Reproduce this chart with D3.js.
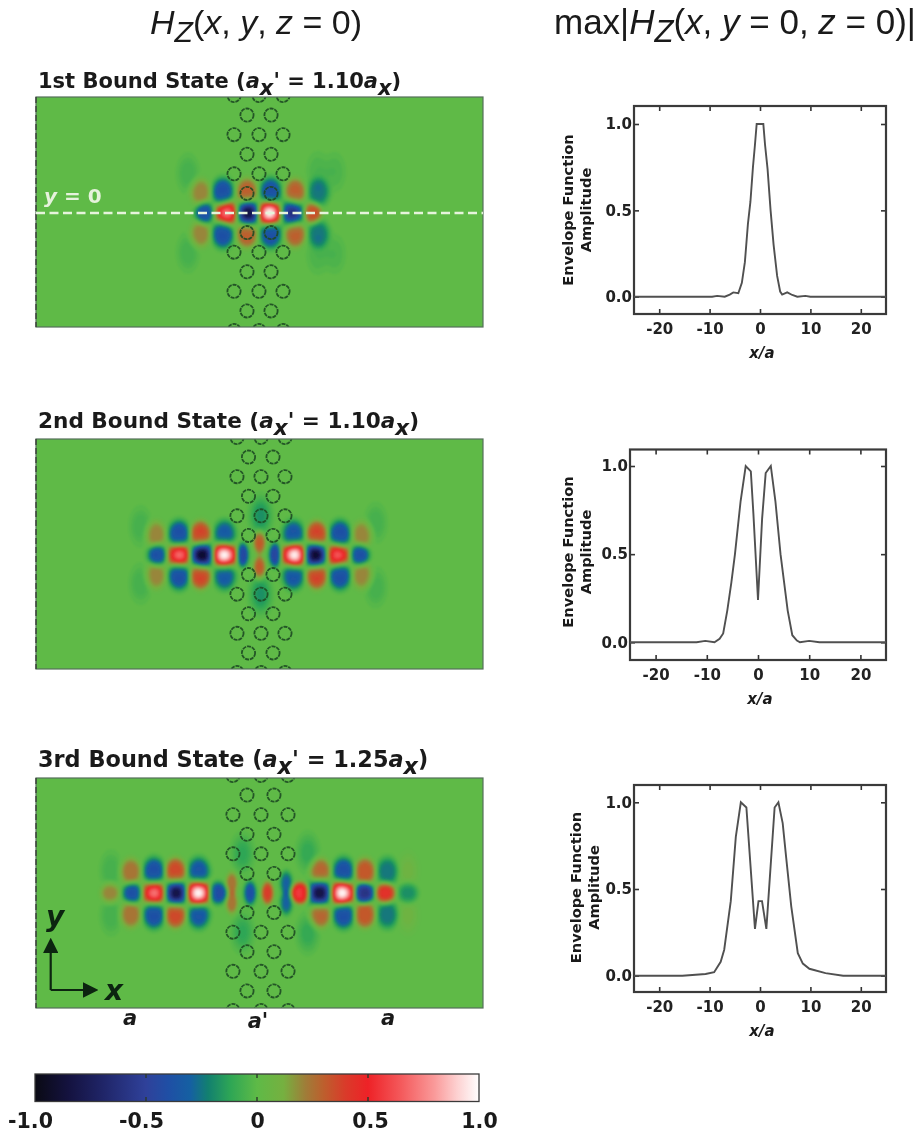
<!DOCTYPE html>
<html>
<head>
<meta charset="utf-8">
<script src="https://cdn.jsdelivr.net/npm/d3@7"></script>
<style>
  html, body { margin: 0; padding: 0; background: #fff; }
  svg { display: block; filter: blur(0.4px); }
  text { font-family: "DejaVu Sans", sans-serif; fill: #1a1a1a; }
</style>
</head>
<body>
<div id="chart"></div>
<script>
// colour map
const colorValues = [-1, -0.85, -0.7, -0.5, -0.4, -0.3, -0.22, -0.12, 0, 0.12, 0.22, 0.3, 0.4, 0.5, 0.65, 0.8, 0.9, 1]
const colorStops = ["#0a0a14", "#14123f", "#1f2466", "#2f419a", "#1f4fa5", "#1560a2", "#12806f", "#2ea655", "#5eba47",
                    "#76b040", "#a07c38", "#bd5f2d", "#da3a2a", "#ee2227", "#f45a5c", "#fa9a9a", "#fdd0d0", "#ffffff"]
const colorTicks = [-1, -0.5, 0, 0.5, 1]
const colorLabels = ["-1.0", "-0.5", "0", "0.5", "1.0"]

// field lobes, x and y in lattice units measured from the centre of each panel, value on the colour scale
const lobes1X = [-6.1, -3.6, -1.25, 1.1, 3.6, 5.9, -6.6, -4.1, -1.4, 1.25, 4, 6.6, -6.6, -4.1, -1.4, 1.25, 4, 6.6, -8, -8, 6.5, 6.5, 8.4, 8.4]
const lobes1Y = [0, 0, 0, 0, 0, 0, -2.35, -2.35, -2.35, -2.35, -2.35, -2.35, 2.35, 2.35, 2.35, 2.35, 2.35, 2.35, -4.4, 4.4, -4.7, 4.7, -4.6, 4.6]
const lobes1V = [-0.4, 0.72, -0.88, 1, -0.62, 0.36, 0.21, -0.4, 0.31, -0.4, 0.3, -0.24, 0.21, -0.4, 0.31, -0.4, 0.3, -0.24, -0.07, -0.07, -0.05, -0.05, -0.05, -0.05]

const lobes2X = [-11.4, -8.9, -6.4, -4, 4, 6.2, 8.7, 11.2, -11.6, -9, -6.6, -3.9, 3.8, 6.4, 9, 11.5, -11.6, -9, -6.6, -3.9, 3.8, 6.4, 9, 11.5, 0.13, 0.13, -13.3, -13.3, 13, 13]
const lobes2Y = [0, 0, 0, 0, 0, 0, 0, 0, -2.3, -2.3, -2.3, -2.3, -2.3, -2.3, -2.3, -2.3, 2.3, 2.3, 2.3, 2.3, 2.3, 2.3, 2.3, 2.3, -4.4, 4.4, -3.2, 3.2, -3.6, 3.6]
const lobes2V = [-0.4, 0.7, -0.95, 1, 1, -0.95, 0.65, -0.4, 0.21, -0.4, 0.38, -0.34, -0.36, 0.38, -0.4, 0.21, 0.21, -0.4, 0.38, -0.34, -0.36, 0.38, -0.4, 0.21, -0.18, -0.18, -0.07, -0.07, -0.07, -0.07]
const narrow2X = [-1.9, 1.75, 0, 0]
const narrow2Y = [0, 0, -1.4, 1.4]
const narrow2V = [-0.48, -0.48, 0.32, 0.32]

const lobes3X = [-16.7, -14.2, -11.7, -9.3, -6.9, -4.7, 4.6, 6.8, 9.2, 11.7, 14.1, 16.6, -14.4, -11.8, -9.4, -6.8, 6.8, 9.4, 11.8, 14.3, -14.4, -11.8, -9.4, -6.8, 6.8, 9.4, 11.8, 14.3, -16.6, -16.6, -1.9, -1.9, 5.4, 5.4, 16.6, 16.6]
const lobes3Y = [0, 0, 0, 0, 0, 0, 0, 0, 0, 0, 0, 0, -2.4, -2.4, -2.4, -2.4, -2.4, -2.4, -2.4, -2.4, 2.4, 2.4, 2.4, 2.4, 2.4, 2.4, 2.4, 2.4, -2.5, 2.5, -4.4, 4.4, -4.5, 4.5, -2.5, 2.5]
const lobes3V = [0.22, -0.4, 0.72, -0.86, 1, -0.44, 0.58, -0.86, 1, -0.6, 0.45, -0.2, 0.25, -0.4, 0.37, -0.36, 0.29, -0.4, 0.33, -0.25, 0.25, -0.4, 0.37, -0.36, 0.29, -0.4, 0.33, -0.25, -0.07, -0.07, -0.12, -0.12, -0.11, -0.11, 0.08, 0.08]
const narrow3X = [-3.1, -3.1, -1.05, 0.9, 3, 3]
const narrow3Y = [-1.1, 1.1, 0, 0, -1.1, 1.1]
const narrow3V = [0.25, 0.25, -0.4, 0.4, -0.3, -0.3]

// air holes of the barrier, rows alternate between three and two holes
const holeRows = [-6, -5, -4, -3, -2, -1, 1, 2, 3, 4, 5, 6]
const holeColsEven1 = [-2.85, -0.06, 2.63]
const holeColsOdd1 = [-1.4, 1.29]
const holeColsEven2 = [-2.52, 0.17, 2.85]
const holeColsOdd2 = [-1.23, 1.51]
const holeColsEven3 = [-2.97, 0.17, 3.19]
const holeColsOdd3 = [-1.4, 1.62]

// envelope curves
const env1X = [-25, -9.5, -8.5, -7, -6, -5.3, -4.3, -3.6, -3, -2.4, -1.9, -1.4, -1, -0.66, 0.66, 1, 1.5, 2.1, 2.7, 3.4, 4, 4.4, 5.4, 6.4, 7.4, 9, 10, 25]
const env1Y = [0, 0, 0.005, 0, 0.012, 0.025, 0.02, 0.08, 0.2, 0.42, 0.55, 0.75, 0.88, 1, 1, 0.88, 0.74, 0.5, 0.3, 0.12, 0.03, 0.012, 0.025, 0.01, 0, 0.005, 0, 0]

const env2X = [-25, -12, -10.3, -8.5, -7.5, -6.8, -6, -5.2, -4.5, -3.4, -2.4, -1.4, -0.9, 0, 0.8, 1.5, 2.5, 3.4, 4.4, 5.1, 5.8, 6.7, 7.6, 8.2, 10, 12, 25]
const env2Y = [0, 0, 0.008, 0, 0.02, 0.05, 0.18, 0.34, 0.5, 0.8, 1, 0.97, 0.73, 0.24, 0.7, 0.96, 1, 0.8, 0.5, 0.34, 0.18, 0.04, 0.01, 0, 0.008, 0, 0]

const env3X = [-25, -15.4, -10.8, -9.1, -7.8, -7.1, -5.8, -4.8, -3.8, -2.7, -1, -0.3, 0.4, 1.26, 2.9, 3.65, 4.5, 5.2, 6.2, 7.5, 8.5, 9.8, 13, 16.5, 25]
const env3Y = [0, 0, 0.01, 0.02, 0.08, 0.15, 0.43, 0.8, 1, 0.97, 0.27, 0.43, 0.43, 0.27, 0.97, 1, 0.88, 0.68, 0.4, 0.13, 0.07, 0.04, 0.015, 0, 0]

const xTicks = [-20, -10, 0, 10, 20]
const yTicks = [0, 0.5, 1]

const w = 916
const h = 1133

const color = d3.scaleLinear().domain(colorValues).range(colorStops).clamp(true)

const svg = d3.select("#chart").append("svg")
              .attr("width", w)
              .attr("height", h)

const defs = svg.append("defs")
defs.append("filter").attr("id", "soft").append("feGaussianBlur").attr("stdDeviation", 0.5)

// headings
const headFont = "'Liberation Sans'"
svg.append("text").attr("x", 150).attr("y", 34)
   .style("font-family", headFont).style("font-size", "34px")
   .html('<tspan font-style="italic">H</tspan><tspan dy="8" font-style="italic" font-size="30">Z</tspan><tspan dy="-8">(</tspan><tspan font-style="italic">x</tspan>, <tspan font-style="italic">y</tspan>, <tspan font-style="italic">z</tspan> = 0)')
svg.append("text").attr("x", 554).attr("y", 34)
   .style("font-family", headFont).style("font-size", "35px")
   .html('max|<tspan font-style="italic">H</tspan><tspan dy="8" font-style="italic" font-size="31">Z</tspan><tspan dy="-8">(</tspan><tspan font-style="italic">x</tspan>, <tspan font-style="italic">y</tspan> = 0, <tspan font-style="italic">z</tspan> = 0)|')

// field panels
const fieldLeft = 36
const fieldRight = 483
const unitsX = [-25, 25]
const unitsY = [-12.86, 12.86]
const rowStep = 2.19
// bands are centred on 0 so the background stays one flat colour
const levels = d3.range(-1.01, 1.02, 0.02)

function bump(u, v, lx, ly, amp, rx, ry, p) {
  const r2 = (u - lx) * (u - lx) / (rx * rx) + (v - ly) * (v - ly) / (ry * ry)
  return amp * Math.exp(-Math.pow(r2, p))
}

function lobeAt(u, v, lx, ly, amp) {
  if (Math.abs(amp) < 0.2) return bump(u, v, lx, ly, amp, 1.1, 1.9, 1.4)
  if (Math.abs(ly) > 1.8) return bump(u, v, lx, ly, amp, 1.2, 1.55, 2)
  if (Math.abs(amp) > 0.6) return bump(u, v, lx, ly, amp, 1.3, 1.3, 1.2)
  return bump(u, v, lx, ly, amp, 1.08, 1.2, 2)
}

function drawField(idx, top, cy, lx, ly, lv, nx0, ny0, nv0, colsEven, colsOdd) {
  const bottom = top + 230
  const x = d3.scaleLinear().domain(unitsX).range([fieldLeft, fieldRight])
  const y = d3.scaleLinear().domain(unitsY).range([cy - 115, cy + 115])

  const nx = 224, ny = 115
  const values = new Array(nx * ny)
  for (let j = 0; j < ny; j++) {
    const v = y.invert(top + (j + 0.5) * 2)
    for (let i = 0; i < nx; i++) {
      const u = x.invert(fieldLeft + (i + 0.5) * (fieldRight - fieldLeft) / nx)
      let sum = 0
      for (let k = 0; k < lx.length; k++) sum += lobeAt(u, v, lx[k], ly[k], lv[k])
      for (let k = 0; k < nx0.length; k++) sum += bump(u, v, nx0[k], ny0[k], nv0[k], 0.68, 1.3, 2)
      values[i + j * nx] = sum
    }
  }

  const clipId = "clip" + idx
  defs.append("clipPath").attr("id", clipId).append("rect")
      .attr("x", fieldLeft).attr("y", top).attr("width", fieldRight - fieldLeft).attr("height", 230)

  const g = svg.append("g").attr("clip-path", `url(#${clipId})`)
  g.append("rect").attr("x", fieldLeft).attr("y", top)
   .attr("width", fieldRight - fieldLeft).attr("height", 230).attr("fill", color(0))

  const contours = d3.contours().size([nx, ny]).thresholds(levels)(values)
  g.append("g").attr("filter", "url(#soft)")
   .attr("transform", `translate(${fieldLeft},${top}) scale(${(fieldRight - fieldLeft) / nx},2)`)
   .selectAll("path")
   .data(contours)
   .enter()
   .append("path")
   .attr("d", d3.geoPath())
   .attr("fill", d => color(d.value + 0.01))

  const holes = []
  holeRows.forEach(r => {
    const cols = r % 2 === 0 ? colsEven : colsOdd
    cols.forEach(c => holes.push([c, r * rowStep]))
  })
  g.selectAll("circle.hole")
   .data(holes)
   .enter()
   .append("circle")
   .attr("class", "hole")
   .attr("cx", d => x(d[0]))
   .attr("cy", d => y(d[1]))
   .attr("r", 6.6)
   .attr("fill", "none")
   .attr("stroke", "#1d4a22")
   .attr("stroke-opacity", 0.9)
   .attr("stroke-width", 1.8)
   .attr("stroke-dasharray", "4 0.9")

  // frame
  svg.append("rect").attr("x", fieldLeft).attr("y", top)
     .attr("width", fieldRight - fieldLeft).attr("height", 230)
     .attr("fill", "none").attr("stroke", "#55705a").attr("stroke-width", 1.2)
  svg.append("line").attr("x1", fieldLeft).attr("x2", fieldLeft).attr("y1", top).attr("y2", bottom)
     .attr("stroke", "#333").attr("stroke-width", 1.2).attr("stroke-dasharray", "6 3")
  return { x: x, y: y }
}

const titleRuns = (n, ratio) => `${n} Bound State (<tspan font-style="italic">a</tspan><tspan dy="7" font-style="italic">x</tspan><tspan dy="-7">' = ${ratio}</tspan><tspan font-style="italic">a</tspan><tspan dy="7" font-style="italic">x</tspan><tspan dy="-7">)</tspan>`

svg.append("text").attr("x", 38).attr("y", 88).style("font-size", "21px").style("font-weight", "bold").html(titleRuns("1st", "1.10"))
svg.append("text").attr("x", 38).attr("y", 428).style("font-size", "21.6px").style("font-weight", "bold").html(titleRuns("2nd", "1.10"))
svg.append("text").attr("x", 38).attr("y", 767).style("font-size", "22.4px").style("font-weight", "bold").html(titleRuns("3rd", "1.25"))

const noLobes = []
const field1 = drawField(1, 97, 213, lobes1X, lobes1Y, lobes1V, noLobes, noLobes, noLobes, holeColsEven1, holeColsOdd1)
drawField(2, 439, 555, lobes2X, lobes2Y, lobes2V, narrow2X, narrow2Y, narrow2V, holeColsEven2, holeColsOdd2)
drawField(3, 778, 893, lobes3X, lobes3Y, lobes3V, narrow3X, narrow3Y, narrow3V, holeColsEven3, holeColsOdd3)

// y = 0 marker on the first panel
svg.append("line")
   .attr("x1", fieldLeft).attr("x2", fieldRight)
   .attr("y1", field1.y(0)).attr("y2", field1.y(0))
   .attr("stroke", "#e6f4dc").attr("stroke-width", 2.4).attr("stroke-dasharray", "9 4.5")
svg.append("text").attr("x", 44).attr("y", 203)
   .style("fill", "#e6f2dc").style("font-size", "20px").style("font-weight", "bold")
   .html('<tspan font-style="italic">y</tspan> = 0')

// axes arrows on the third panel
defs.append("marker").attr("id", "head").attr("viewBox", "0 0 10 10").attr("refX", 2).attr("refY", 5)
    .attr("markerWidth", 7).attr("markerHeight", 7).attr("orient", "auto")
    .append("path").attr("d", "M0,0L10,5L0,10Z").attr("fill", "#0c2410")
svg.append("path").attr("d", "M50.7,990V950").attr("fill", "none").attr("stroke", "#0c2410").attr("stroke-width", 2.2).attr("marker-end", "url(#head)")
svg.append("path").attr("d", "M50.7,990H86").attr("fill", "none").attr("stroke", "#0c2410").attr("stroke-width", 2.2).attr("marker-end", "url(#head)")
svg.append("text").attr("x", 46).attr("y", 926).style("fill", "#0c2410").style("font-size", "28px").style("font-weight", "bold").style("font-style", "italic").text("y")
svg.append("text").attr("x", 105).attr("y", 1000).style("fill", "#0c2410").style("font-size", "28px").style("font-weight", "bold").style("font-style", "italic").text("x")

const regionLabels = ["a", "a'", "a"]
const regionX = [130, 258, 388]
const regionY = [1025, 1028, 1025]
svg.selectAll("text.region")
   .data(regionLabels)
   .enter()
   .append("text")
   .attr("class", "region")
   .attr("x", (d, i) => regionX[i])
   .attr("y", (d, i) => regionY[i])
   .attr("text-anchor", "middle")
   .style("font-size", "21px").style("font-weight", "bold").style("font-style", "italic")
   .text(d => d)

// envelope panels
function drawEnvelope(frame, y0Px, y1Px, labelX, labelMid, ex, ey) {
  const x = d3.scaleLinear().domain([-25, 25]).range([frame.left, frame.right])
  const y = d3.scaleLinear().domain([0, 1]).range([y0Px, y1Px])
  const g = svg.append("g")
  const fmtY = d => d3.format(".1f")(d)

  const bottomAxis = d3.axisBottom(x).tickValues(xTicks).tickSize(-5).tickPadding(9).tickFormat(d => String(d))
  const topAxis = d3.axisTop(x).tickValues(xTicks).tickSize(-5).tickFormat("")
  const leftAxis = d3.axisLeft(y).tickValues(yTicks).tickSize(-5).tickPadding(2).tickFormat(fmtY)
  const rightAxis = d3.axisRight(y).tickValues(yTicks).tickSize(-5).tickFormat("")

  g.append("g").attr("transform", `translate(0,${frame.bottom})`).call(bottomAxis)
  g.append("g").attr("transform", `translate(0,${frame.top})`).call(topAxis)
  g.append("g").attr("transform", `translate(${frame.left},0)`).call(leftAxis)
  g.append("g").attr("transform", `translate(${frame.right},0)`).call(rightAxis)
  g.selectAll(".domain").remove()
  g.selectAll(".tick line").attr("stroke", "#333").attr("stroke-width", 1.6)
  g.selectAll(".tick text")
   .style("font-family", "'DejaVu Sans'").style("font-size", "15px").style("font-weight", "bold").style("fill", "#222")

  g.append("rect")
   .attr("x", frame.left).attr("y", frame.top)
   .attr("width", frame.right - frame.left).attr("height", frame.bottom - frame.top)
   .attr("fill", "none").attr("stroke", "#3a3a3a").attr("stroke-width", 2.2)

  const line = d3.line().x((d, i) => x(ex[i])).y((d, i) => y(d))
  g.append("path").datum(ey)
   .attr("fill", "none").attr("stroke", "#505050").attr("stroke-width", 1.9)
   .attr("d", line)

  g.append("text").attr("x", x(0) + 2).attr("y", frame.bottom + 44).attr("text-anchor", "middle")
   .style("font-size", "15px").style("font-weight", "bold")
   .html('<tspan font-style="italic">x/a</tspan>')

  const yLabels = ["Envelope Function", "Amplitude"]
  g.selectAll("text.ylab")
   .data(yLabels)
   .enter()
   .append("text")
   .attr("class", "ylab")
   .attr("transform", (d, i) => `translate(${labelX + i * 18},${labelMid}) rotate(-90)`)
   .attr("text-anchor", "middle")
   .style("font-size", "14.6px").style("font-weight", "bold")
   .text(d => d)
}

drawEnvelope({ left: 634, right: 886, top: 106, bottom: 314 }, 296.7, 124, 573, 210, env1X, env1Y)
drawEnvelope({ left: 630, right: 886, top: 449.5, bottom: 660 }, 642.3, 466, 573, 552, env2X, env2Y)
drawEnvelope({ left: 634, right: 886, top: 785, bottom: 992 }, 975.7, 802.3, 581, 887.5, env3X, env3Y)

// colour bar
const barX = d3.scaleLinear().domain([-1, 1]).range([35, 479])
const gradient = defs.append("linearGradient").attr("id", "cbar")
gradient.selectAll("stop")
        .data(colorValues)
        .enter()
        .append("stop")
        .attr("offset", d => (d + 1) / 2)
        .attr("stop-color", (d, i) => colorStops[i])
svg.append("rect").attr("x", barX(-1)).attr("y", 1074)
   .attr("width", barX(1) - barX(-1)).attr("height", 27.5)
   .attr("fill", "url(#cbar)").attr("stroke", "#3a3a3a").attr("stroke-width", 1.3)

const barAxis = d3.axisBottom(barX).tickValues(colorTicks).tickSize(0).tickPadding(26)
                  .tickFormat((d, i) => colorLabels[i])
const barG = svg.append("g").attr("transform", "translate(0,1101.5)").call(barAxis)
barG.select(".domain").remove()
barG.selectAll(".tick text")
    .attr("dx", d => d < 0 ? -5 : (d === 0.5 ? 2 : 0))
    .attr("y", 26.5).attr("dy", 0)
    .style("font-family", "'DejaVu Sans'").style("font-size", "20.5px").style("font-weight", "bold").style("fill", "#1a1a1a")

const barTicks = colorTicks.slice(1, 4)
svg.selectAll("line.bt")
   .data(barTicks)
   .enter()
   .append("line")
   .attr("x1", d => barX(d)).attr("x2", d => barX(d))
   .attr("y1", 1074).attr("y2", 1078)
   .attr("stroke", "#2a3a2a").attr("stroke-width", 1.4)
svg.selectAll("line.bb")
   .data(barTicks)
   .enter()
   .append("line")
   .attr("x1", d => barX(d)).attr("x2", d => barX(d))
   .attr("y1", 1097).attr("y2", 1101)
   .attr("stroke", "#2a3a2a").attr("stroke-width", 1.4)
</script>
</body>
</html>
